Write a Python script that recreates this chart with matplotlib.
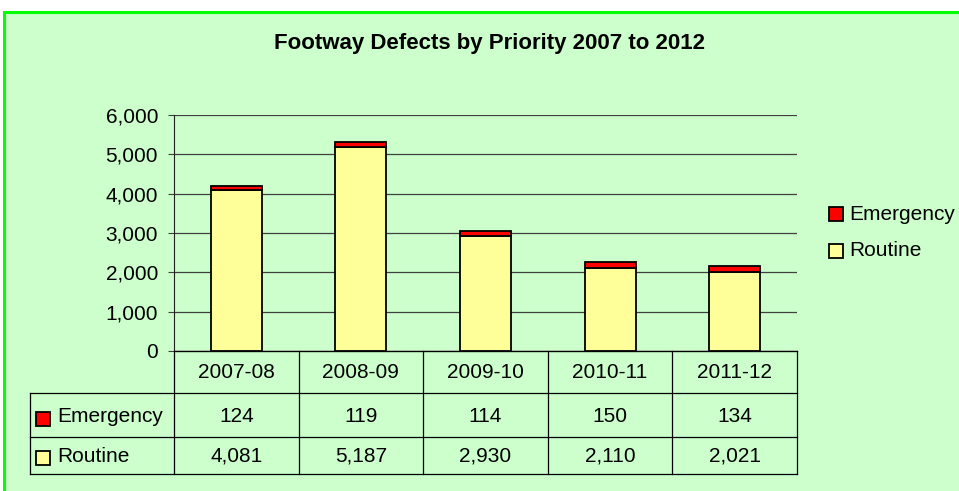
import matplotlib
matplotlib.use('Agg')
import matplotlib.pyplot as plt
from matplotlib.patches import Rectangle
import numpy as np

plt.rcParams['font.family'] = ['Liberation Sans', 'DejaVu Sans']

# data
years = ['2007-08', '2008-09', '2009-10', '2010-11', '2011-12']
emergency = [124, 119, 114, 150, 134]
routine = [4081, 5187, 2930, 2110, 2021]
series_names = ['Emergency', 'Routine']
series_colors = ['#FF0000', '#FFFF99']

W, H = 959, 491
FS = 15
fig = plt.figure(figsize=(W / 100, H / 100), dpi=100)
fig.patch.set_facecolor('white')

# green background with bright border (top + left visible)
fig.patches.append(Rectangle((4 / W, -0.1), 1.2, (H - 12) / H + 0.1, transform=fig.transFigure,
                             facecolor='#CCFFCC', edgecolor='#00FF00', linewidth=2.2, zorder=-10))

def px_axes(x0, y0, x1, y1):
    return fig.add_axes([x0 / W, 1 - y1 / H, (x1 - x0) / W, (y1 - y0) / H])

fig.text(489 / W, 1 - 44 / H, 'Footway Defects by Priority 2007 to 2012', ha='center', va='center',
         fontsize=16, fontweight='bold')

# bar plot
ax = px_axes(174, 115, 797, 351)
ax.set_facecolor('none')
x = np.arange(len(years))
bw = 0.41
ax.bar(x, routine, bw, color=series_colors[1], edgecolor='black', linewidth=1.3, zorder=3)
ax.bar(x, emergency, bw, bottom=routine, color=series_colors[0], edgecolor='black', linewidth=1.3, zorder=3)
ax.set_xlim(-0.5, 4.5)
ax.set_ylim(0, 6000)
ax.set_yticks(range(0, 6001, 1000))
ax.set_yticklabels([f'{v:,}' for v in range(0, 6001, 1000)], fontsize=FS)
ax.set_xticks([])
ax.yaxis.grid(True, color='#404040', linewidth=0.9, zorder=0)
for s in ['top', 'right']:
    ax.spines[s].set_visible(False)
ax.spines['left'].set_color('#202020')
ax.spines['bottom'].set_color('black')
ax.tick_params(axis='y', length=4.5, color='#404040', pad=7)

# data table (y in pixels below the plot)
tx0, tx1 = 30, 797
unit = (797 - 174) / 5
tax = px_axes(tx0, 351, tx1, 474)
left = -0.5 - (174 - tx0) / unit
tax.set_xlim(left, 4.5)
tax.set_ylim(123, 0)
tax.axis('off')
tax.set_facecolor('none')
rows = [0, 42, 86, 123]
lk = dict(color='black', linewidth=0.9, clip_on=False)
tax.plot([-0.5, 4.5], [rows[0], rows[0]], **lk)
for yy in rows[1:]:
    tax.plot([left, 4.5], [yy, yy], **lk)
tax.plot([left, left], [rows[1], rows[3]], **lk)
for b in np.arange(-0.5, 5.0, 1.0):
    tax.plot([b, b], [rows[0], rows[3]], **lk)
for i, yr in enumerate(years):
    tax.text(i, 21, yr, ha='center', va='center', fontsize=FS)
    tax.text(i, 65, f'{emergency[i]:,}', ha='center', va='center', fontsize=FS)
    tax.text(i, 105, f'{routine[i]:,}', ha='center', va='center', fontsize=FS)
for yc, name, col in zip([68, 107], series_names, series_colors):
    sq = Rectangle((left + 6 / unit, yc - 7), 14 / unit, 14, facecolor=col, edgecolor='black',
                   linewidth=1.3, transform=tax.transData, clip_on=False)
    tax.add_patch(sq)
    tax.text(left + 27 / unit, yc - 2, name, ha='left', va='center', fontsize=FS)

# legend on the right
for r, (name, col) in enumerate(zip(series_names, series_colors)):
    yc = 214 + r * 37
    fig.patches.append(Rectangle((829 / W, 1 - (yc + 7) / H), 14 / W, 14 / H, transform=fig.transFigure,
                                 facecolor=col, edgecolor='black', linewidth=1.3, zorder=2))
    fig.text(849 / W, 1 - yc / H, name, ha='left', va='center', fontsize=FS)

fig.savefig('out.png', dpi=100, facecolor=fig.get_facecolor())
